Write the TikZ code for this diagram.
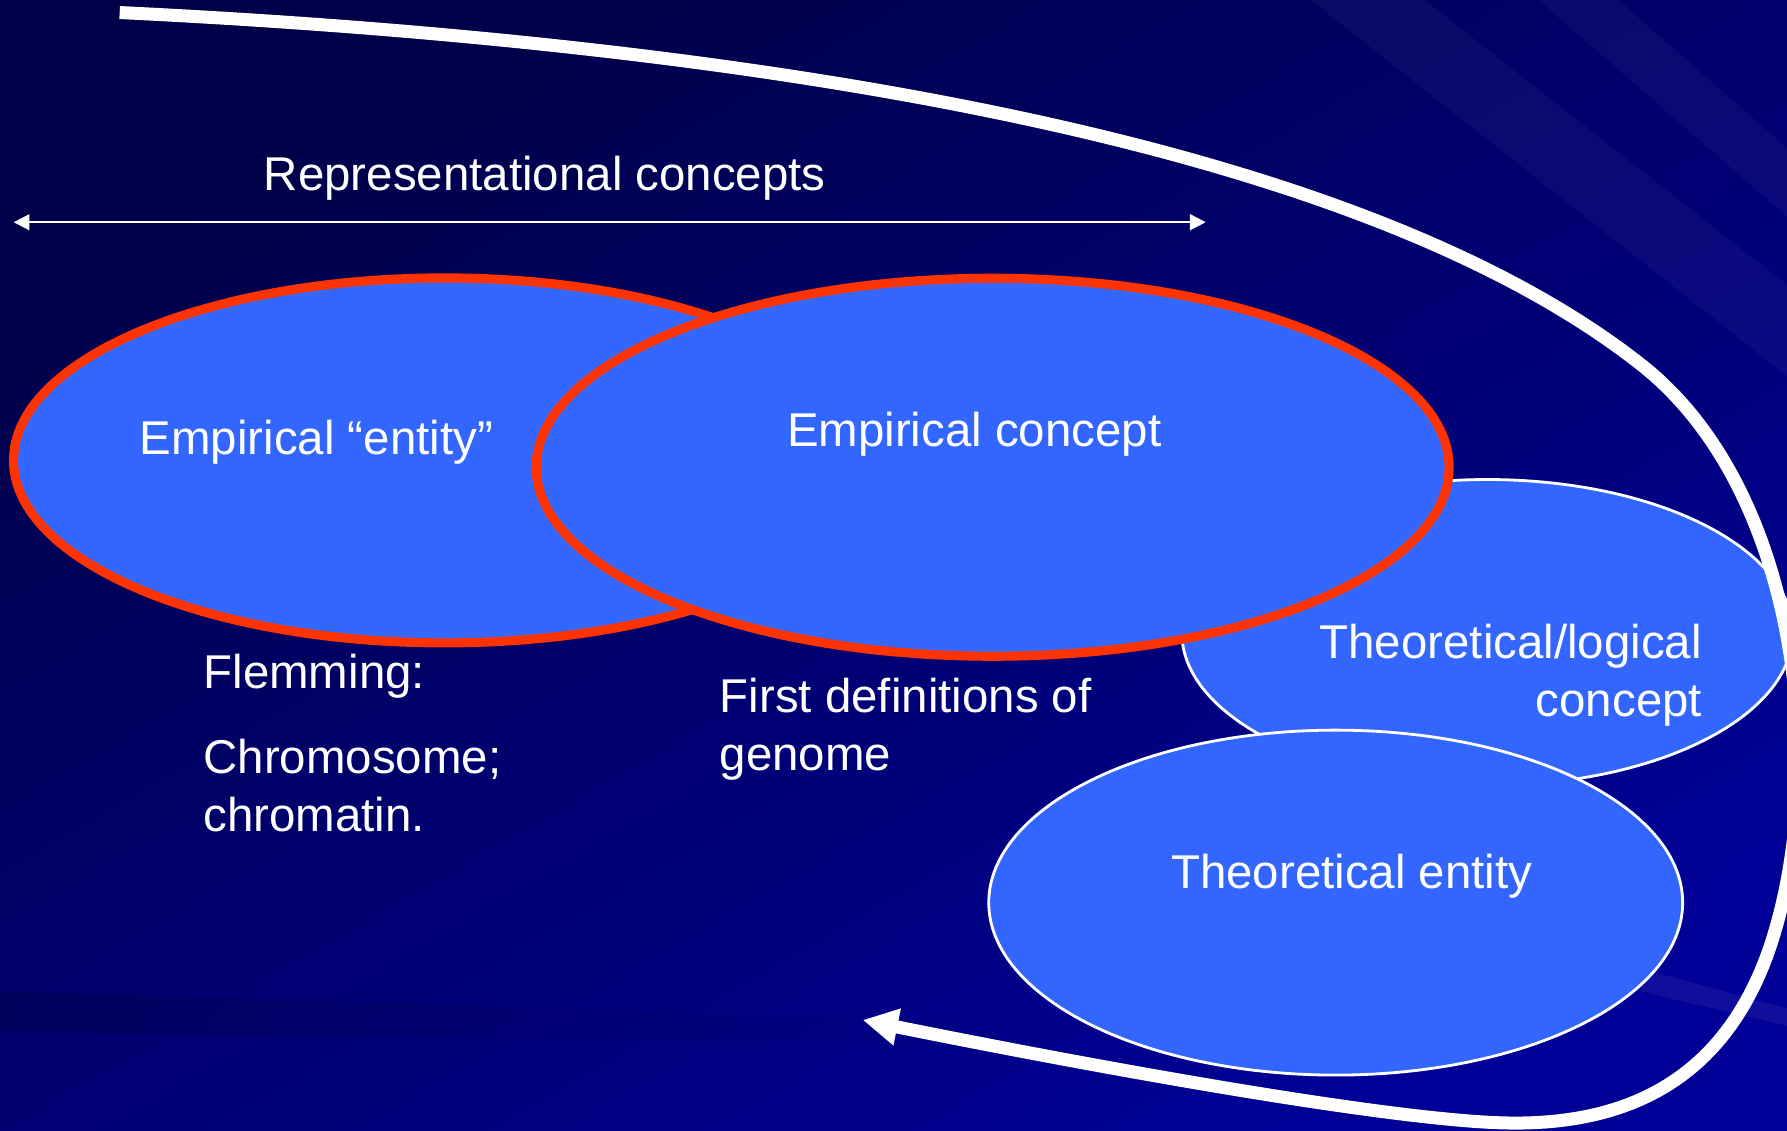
\documentclass[tikz,border=0pt]{standalone}
\usepackage{fontspec}
\setmainfont{Liberation Sans}
\usetikzlibrary{shapes.geometric,arrows.meta}
\definecolor{bgdark}{RGB}{0,0,72}
\definecolor{bglight}{RGB}{0,0,150}
\definecolor{fillblue}{RGB}{51,102,255}
\definecolor{redline}{RGB}{255,51,0}

\begin{document}
\begin{tikzpicture}[x=0.0114cm, y=-0.0114cm, empirical/.style = {shape=ellipse, draw=redline, line width=2.6pt, fill=fillblue, inner sep=0pt}, theoretical/.style = {shape=ellipse, draw=white, line width=0.8pt, fill=fillblue, inner sep=0pt}, txt/.style = {text=white, inner sep=0pt, font=\fontsize{13.5}{16.5}\selectfont}, bigcurve/.style = {draw=white, line width=3.7pt, -{Triangle[length=10pt, width=10pt]}}]
	\useasboundingbox (0,0) rectangle (1568,992);
	% background
	\shade[top color=bgdark, bottom color=bglight, shading angle=30] (0,0) rectangle (1568,992);
	\fill[white, opacity=0.04] (1150,0) -- (1250,0) -- (1568,250) -- (1568,330) -- cycle;
	\fill[white, opacity=0.04] (1350,0) -- (1420,0) -- (1568,130) -- (1568,190) -- cycle;
	\fill[white, opacity=0.06] (1440,850) -- (1568,885) -- (1568,900) -- (1440,870) -- cycle;
	\shade[left color=black, right color=bglight, opacity=0.15] (0,870) -- (1000,900) -- (1000,920) -- (0,905) -- cycle;
	% representational concepts
	\coordinate (repleft) at (12,195);
	\coordinate (repright) at (1058,195);
	\draw[white, line width=0.6pt, {Triangle[length=4.5pt, width=4.5pt]}-{Triangle[length=4.5pt, width=4.5pt]}] (repleft) -- (repright);
	\node[txt, anchor=base west] (reptext) at (231,167) {Representational concepts};
	% ellipses
	\node[empirical, minimum width=8.62cm, minimum height=3.65cm] (entity) at (390,404) {};
	\node[theoretical, minimum width=6.11cm, minimum height=3.06cm] (logical) at (1305,555) {};
	\node[theoretical, minimum width=6.94cm, minimum height=3.45cm] (theory) at (1172,792) {};
	\node[empirical, minimum width=9.13cm, minimum height=3.78cm] (concept) at (871,410) {};
	\node[txt, anchor=base west] (entitytext) at (122,399) {Empirical “entity”};
	\node[txt, anchor=base west] (concepttext) at (690,392) {Empirical concept};
	\node[txt, anchor=base east, align=right] (logicaltext) at (1494,629) {Theoretical/logical\\concept};
	\node[txt, anchor=base west] (theorytext) at (1027,780) {Theoretical entity};
	% examples
	\node[txt, anchor=base west] (flemming) at (178,604) {Flemming:};
	\node[txt, anchor=base west, align=left] (chromo) at (178,730) {Chromosome;\\chromatin.};
	\node[txt, anchor=base west, align=left] (firstdef) at (631,676) {First definitions of\\genome};
	% the loop back
	\coordinate (loopstart) at (105,11);
	\coordinate (looptip) at (757,895);
	\draw[bigcurve] (loopstart) .. controls (700,40) and (1200,131) .. (1440,320) .. controls (1580,430) and (1605,680) .. (1552,834) .. controls (1510,953) and (1420,990) .. (1311,985) .. controls (1201,980) and (950,934) .. (looptip);
\end{tikzpicture}
\end{document}
